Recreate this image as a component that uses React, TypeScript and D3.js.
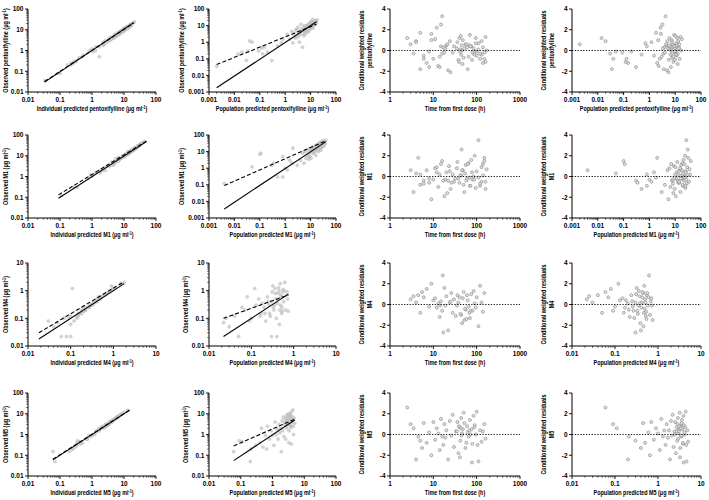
import * as d3 from "d3";

// pentoxifylline
const pxTime = [3, 2.5, 4, 3.5, 5, 6, 8, 150, 160, 120, 140, 100, 8, 130, 110, 15,
  4, 6, 5, 7, 9, 10, 12, 14, 15, 16, 17, 18, 16, 20, 22, 24, 35, 38, 40, 42,
  44, 46, 48, 50, 55, 60, 65, 70, 75, 80, 85, 90, 95, 100, 110, 120, 130, 140, 150, 160,
  170, 11, 13, 19, 21, 25, 30, 36, 39, 41, 43, 45, 47, 52, 58, 62, 68, 72, 78, 88, 9, 14, 28, 96];
const pxObs = [0.035, 0.2, 0.25, 0.08, 0.3, 1.2, 1.0, 0.3, 0.45, 0.2, 0.5, 0.25, 0.08, 0.6, 0.9, 1.5,
  3.0, 1.5, 4.5, 0.9, 3.5, 1.8, 6.0, 2.0, 8.0, 2.5, 4.0, 3.0, 12, 5.0, 0.5, 7.0, 4.5, 3.0, 9.0, 5.5,
  4.0, 6.5, 10, 5.0, 11, 8.0, 6.0, 14, 9.0, 7.0, 12, 10, 15, 9.0, 13, 11, 17, 14, 12, 20,
  16, 22, 2.0, 3.8, 6.0, 2.5, 7.5, 9.5, 4.5, 8.5, 18, 13, 7.0, 15, 19, 1.0, 10, 12, 6.5, 9.0, 5.5, 3.5, 8.0, 24];
const pxIpred = [0.034, 0.17, 0.22, 0.09, 0.28, 1.0, 0.9, 0.32, 0.4, 0.22, 0.5, 0.27, 0.1, 0.55, 0.8, 1.3,
  2.6, 1.7, 4.0, 1.1, 3.9, 2.2, 5.2, 2.4, 7.0, 2.2, 4.6, 3.4, 10, 5.8, 1.7, 6.2, 5.0, 3.6, 8.0, 6.2,
  4.8, 7.5, 9.0, 5.5, 10, 9.0, 6.5, 12, 10, 7.8, 12, 11, 14, 9.5, 12, 12, 15, 15, 13, 18,
  17, 20, 2.3, 3.4, 6.6, 2.9, 7.0, 10, 5.2, 9.2, 16, 14, 8.0, 16, 17, 1.3, 9.2, 13, 7.2, 9.8, 5.0, 4.0, 8.6, 21];
const pxPred = [0.002, 0.014, 0.02, 0.03, 0.035, 0.04, 0.05, 0.09, 0.12, 0.13, 0.15, 0.2, 0.3, 0.5, 0.7, 0.8,
  1.2, 1.5, 1.8, 2.0, 2.2, 2.5, 2.7, 3.0, 3.2, 3.5, 3.8, 4.0, 4.2, 4.5, 4.8, 5.0, 5.3, 5.6, 6.0, 6.3,
  6.6, 7.0, 7.3, 7.6, 8.0, 8.3, 8.6, 9.0, 9.3, 9.6, 10, 10.5, 11, 11.5, 12, 12.5, 13, 14, 15, 16,
  17, 18, 2.3, 3.3, 4.4, 5.5, 6.5, 7.5, 8.5, 9.5, 10.5, 11.5, 12.5, 13.5, 14.5, 3.6, 5.8, 8.8, 9.8, 10.8, 2.8, 6.8, 7.8, 12];
const pxCwres = [0.6, 1.2, 0.9, -0.3, -1.8, -0.8, -0.1, -0.2, -1.1, -0.8, -1.2, -0.1, -1.6, -0.4, 0.7, 0.4,
  0.8, -0.5, 1.7, -1.2, 1.0, -0.8, 2.2, -0.6, 2.5, -0.3, 0.3, -0.2, 3.3, 0.5, -1.9, 0.9, 0.2, -0.9, 1.2, 0.1,
  -0.4, 0.0, 1.0, -0.7, 0.6, 0.3, -0.6, 1.5, 0.4, -0.2, 0.2, -0.1, 0.7, -0.5, 0.1, -0.3, 0.9, 0.3, -0.8, 1.3,
  0.0, 1.1, -1.5, 0.2, 0.6, -2.1, 0.4, 0.8, -1.1, -0.1, 1.4, 0.5, -1.3, 0.2, 0.6, -1.8, 0.5, 0.4, -0.9, -0.4, 1.6, -1.6, -0.2, 1.2];

// M1
const m1Time = [3, 4, 150, 140, 6, 8, 160, 120, 5, 10, 130, 12, 110, 4.5,
  3.5, 5, 7, 9, 11, 13, 15, 17, 19, 21, 23, 25, 28, 32, 36, 40, 44, 48, 52, 56,
  60, 65, 70, 75, 80, 85, 90, 95, 100, 110, 120, 130, 140, 150, 160, 170, 14, 16, 18, 20,
  22, 24, 26, 35, 38, 42, 46, 50, 54, 58, 62, 68, 72, 78, 88, 6, 8, 12, 30, 45];
const m1Obs = [0.12, 1.2, 7.0, 8.0, 1.5, 2.0, 0.3, 0.3, 5.0, 1.0, 0.8, 3.0, 2.0, 16,
  1.5, 3.0, 8.0, 2.0, 10, 4.0, 12, 6.0, 7.0, 3.5, 15, 5.0, 11, 9.0, 20, 8.0, 12, 18, 6.0, 22,
  14, 25, 10, 30, 16, 20, 35, 12, 28, 40, 18, 32, 24, 45, 22, 38, 30, 50, 4.0, 13,
  9.0, 16, 11, 24, 14, 19, 26, 13, 21, 17, 33, 22, 15, 28, 20, 5.5, 8.5, 15, 10, 36];
const m1Ipred = [0.11, 0.9, 5.5, 6.5, 1.3, 1.8, 0.28, 0.35, 4.2, 1.0, 0.75, 2.8, 2.2, 14,
  1.8, 3.5, 7.0, 2.6, 9.0, 4.5, 11, 6.5, 7.5, 4.5, 13, 5.5, 11, 10, 18, 8.5, 13, 17, 7.0, 20,
  15, 23, 11, 27, 17, 21, 32, 13, 27, 36, 19, 30, 25, 40, 23, 35, 30, 45, 5.0, 13,
  10, 16, 12, 22, 15, 19, 25, 14, 21, 18, 30, 22, 16, 27, 21, 6.5, 9.0, 14, 11, 33];
const m1Pred = [0.004, 0.05, 0.1, 0.11, 0.3, 0.35, 0.5, 0.8, 0.8, 1.0, 1.2, 1.5, 1.8, 2.0,
  3, 4, 5, 5.5, 6, 6.5, 7, 7.5, 8, 8.5, 9, 9.5, 10, 11, 12, 13, 14, 15, 16, 17,
  18, 19, 20, 21, 22, 23, 24, 25, 26, 27, 28, 29, 30, 32, 34, 36, 38, 40, 10.5, 11.5,
  12.5, 13.5, 14.5, 15.5, 16.5, 17.5, 18.5, 19.5, 20.5, 21.5, 22.5, 23.5, 24.5, 25.5, 26.5, 8.2, 9.2, 10.2, 14.2, 30.5];
const m1Cwres = [0.6, 0.3, 1.5, 1.2, -0.4, -0.6, -1.2, -0.9, 0.2, -0.3, -0.5, 0.4, -0.1, 1.8,
  -1.5, -0.8, 0.6, -2.2, 0.8, -1.0, 1.2, -0.4, -0.3, -1.6, 1.0, -1.2, 0.2, -0.2, 1.4, -0.6, 0.1, 0.6, -1.5, 1.1,
  -0.2, 1.3, -0.9, 1.6, -0.3, 0.0, 2.0, -1.1, 0.5, 3.5, -0.7, 0.9, 0.1, 1.8, -0.5, 0.7, 0.2, 1.5, -1.9, 0.4,
  -0.4, 0.5, -0.6, 0.8, -0.2, 0.1, 0.6, -0.8, 0.3, -0.4, 1.2, -0.1, -0.9, 0.4, -0.3, -0.7, -0.2, 0.9, -0.5, 2.6];

// M4
const m4Time = [3, 3.5, 4, 4.5, 5, 5.5, 6, 7, 8, 9, 10, 11, 12, 13, 14, 15, 16, 17, 18, 19,
  20, 22, 24, 26, 28, 30, 33, 36, 40, 44, 48, 52, 56, 60, 65, 70, 75, 80, 85, 90,
  95, 100, 110, 120, 130, 140, 150, 14.5, 16.5, 25, 35, 38, 42, 46, 50, 54, 58, 62, 68, 72];
const m4Obs = [0.07, 0.1, 0.05, 0.12, 0.022, 0.25, 0.2, 0.6, 0.1, 1.2, 0.3, 0.5, 0.15, 0.25, 0.08, 0.4, 0.15, 0.022, 1.5, 0.3,
  0.8, 0.022, 0.5, 1.0, 0.2, 0.7, 0.15, 0.9, 1.0, 0.2, 0.9, 0.18, 0.15, 0.6, 0.3, 0.12, 0.9, 0.25, 1.2, 0.5,
  0.35, 0.8, 0.06, 1.8, 0.6, 0.25, 1.1, 0.4, 2.0, 0.7, 0.5, 0.4, 0.2, 0.1, 1.3, 0.3, 0.18, 0.35, 0.12, 0.08];
const m4Ipred = [0.05, 0.07, 0.04, 0.1, 0.08, 0.2, 0.18, 0.45, 0.09, 0.11, 0.28, 0.42, 0.16, 0.23, 0.12, 0.38, 0.18, 0.06, 0.9, 0.3,
  0.7, 0.1, 0.45, 0.85, 0.22, 0.6, 0.17, 0.8, 0.9, 0.22, 0.8, 0.2, 0.15, 0.5, 0.3, 0.15, 0.8, 0.27, 1.0, 0.48,
  0.35, 0.7, 0.1, 1.5, 0.55, 0.27, 1.0, 0.42, 1.8, 0.65, 0.5, 0.38, 0.22, 0.14, 1.1, 0.32, 0.2, 0.33, 0.14, 0.03];
const m4Pred = [0.022, 0.025, 0.03, 0.04, 0.05, 0.06, 0.07, 0.08, 0.1, 0.12, 0.13, 0.15, 0.17, 0.2, 0.22, 0.25, 0.27, 0.3, 0.32, 0.35,
  0.37, 0.4, 0.42, 0.45, 0.47, 0.5, 0.52, 0.55, 0.6, 0.65, 0.7, 0.75, 0.21, 0.24, 0.26, 0.28, 0.31, 0.33, 0.36, 0.38,
  0.41, 0.43, 0.46, 0.48, 0.51, 0.53, 0.56, 0.58, 0.62, 0.68, 0.72, 0.3, 0.34, 0.39, 0.44, 0.49, 0.54, 0.18, 0.16, 0.09];
const m4Cwres = [0.5, 0.8, 0.2, 0.9, -0.8, 1.2, 0.7, 1.5, -0.2, 2.0, 0.4, 0.6, -0.3, 0.1, -1.2, 0.3, -0.6, -2.7, 1.6, -0.1,
  0.8, -2.5, 0.2, 1.1, -0.8, 0.5, -1.1, 0.9, 0.7, -1.0, 0.6, -1.5, -0.5, 0.9, -0.2, -1.3, 1.0, -0.6, 1.3, 0.1,
  -0.3, 0.7, -2.1, 1.8, 0.2, -0.7, 1.1, -0.1, 2.8, 0.3, -0.1, 0.2, -0.9, -1.8, 1.2, -0.4, -1.4, 0.4, -0.8, -0.6];

// M5
const m5Time = [2.5, 3, 3.5, 4, 4.5, 5, 5.5, 6, 7, 8, 9, 10, 11, 12, 13, 14, 15, 16, 17, 18,
  19, 20, 22, 24, 26, 28, 30, 33, 36, 38, 40, 42, 44, 46, 48, 50, 55, 60, 65, 70,
  75, 80, 85, 90, 95, 100, 110, 120, 130, 140, 150, 160, 35, 39, 41, 43, 45, 52, 58, 62, 68, 72, 78, 88, 105];
const m5Obs = [0.15, 0.5, 0.45, 0.05, 0.2, 0.3, 0.4, 2.0, 0.25, 0.9, 0.2, 2.5, 0.6, 1.5, 0.9, 0.3, 4.0, 1.0, 0.6, 3.0,
  1.2, 2.0, 0.15, 4.5, 1.5, 7.0, 0.8, 3.0, 6.0, 0.6, 5.0, 2.0, 8.0, 3.5, 4.5, 10, 1.5, 6.5, 3.0, 9.0,
  5.5, 2.5, 12, 7.0, 4.0, 15, 1.0, 6.0, 3.5, 4.0, 8.5, 2.8, 5.0, 7.5, 0.4, 6.0, 3.2, 9.5, 2.2, 5.5, 1.8, 3.8, 0.35, 7.0, 2.5];
const m5Ipred = [0.06, 0.35, 0.4, 0.07, 0.25, 0.3, 0.35, 1.8, 0.3, 0.8, 0.25, 2.1, 0.7, 1.3, 1.0, 0.35, 3.5, 1.1, 0.7, 2.6,
  1.3, 1.8, 0.2, 4.0, 1.6, 6.0, 0.9, 2.8, 5.5, 0.7, 4.6, 2.2, 7.0, 3.3, 4.2, 8.5, 1.7, 6.0, 3.2, 8.0,
  5.0, 2.7, 10, 6.5, 4.1, 13, 1.2, 5.6, 3.6, 4.2, 7.5, 3.0, 4.8, 6.8, 0.5, 5.5, 3.4, 8.5, 2.4, 5.2, 1.6, 3.5, 0.45, 6.5, 2.7];
const m5Pred = [0.06, 0.09, 0.11, 0.2, 0.21, 0.3, 0.4, 0.45, 0.5, 0.6, 0.65, 0.7, 0.8, 0.9, 1.0, 1.1, 1.2, 1.3, 1.5, 1.6,
  1.7, 1.8, 1.9, 2.0, 2.1, 2.2, 2.3, 2.4, 2.5, 2.6, 2.7, 2.8, 2.9, 3.0, 3.1, 3.2, 3.3, 3.4, 3.5, 3.6,
  3.7, 3.8, 3.9, 4.0, 4.2, 4.4, 4.6, 4.8, 5.0, 2.75, 2.85, 2.95, 3.05, 3.15, 3.25, 3.35, 3.45, 3.55, 3.8, 4.1, 1.4, 2.45, 3.9, 4.3, 4.5];
const m5Cwres = [2.6, 1.0, 0.6, -2.4, -0.2, -0.6, -1.3, 1.1, -0.8, 0.2, -2.0, 1.2, -0.5, 0.6, 0.1, -1.5, 1.5, -0.2, -1.0, 1.0,
  -0.3, 0.4, -2.4, 1.3, -0.1, 1.9, -1.2, 0.3, 1.2, -1.8, 0.7, -0.6, 1.6, 0.1, 0.5, 2.1, -1.3, 0.8, -0.2, 1.4,
  0.5, -0.9, 1.8, 0.9, 0.0, 2.2, -2.6, 0.4, -0.7, 0.3, 1.0, -0.4, 0.3, 0.8, -2.2, 0.6, -0.1, 1.1, -0.8, 0.2, 0.4, 0.0, -2.7, 0.7, -1.0];

// regression lines [solid, dashed], each [[x0,y0],[x1,y1]]
const pxIpredFit = [[[0.033, 0.03], [20, 22]], [[0.033, 0.032], [20, 21]]];
const pxPredFit = [[[0.002, 0.0018], [17, 17]], [[0.002, 0.045], [17, 12]]];
const m1IpredFit = [[[0.09, 0.09], [50, 48]], [[0.09, 0.13], [50, 50]]];
const m1PredFit = [[[0.004, 0.0035], [40, 40]], [[0.004, 0.09], [40, 45]]];
const m4IpredFit = [[[0.018, 0.018], [1.8, 1.8]], [[0.018, 0.03], [1.6, 1.9]]];
const m4PredFit = [[[0.022, 0.022], [0.75, 0.75]], [[0.022, 0.1], [0.75, 0.7]]];
const m5IpredFit = [[[0.06, 0.06], [15, 15]], [[0.06, 0.064], [15, 15]]];
const m5PredFit = [[[0.06, 0.055], [5, 5]], [[0.06, 0.28], [5, 5.5]]];

const analytes = [
  { name: "pentoxifylline", time: pxTime, obs: pxObs, ipred: pxIpred, pred: pxPred, cwres: pxCwres,
    ipredFit: pxIpredFit, predFit: pxPredFit, dom1: [0.01, 100], dom2: [0.001, 100], dom4: [0.001, 100] },
  { name: "M1", time: m1Time, obs: m1Obs, ipred: m1Ipred, pred: m1Pred, cwres: m1Cwres,
    ipredFit: m1IpredFit, predFit: m1PredFit, dom1: [0.01, 100], dom2: [0.001, 100], dom4: [0.001, 100] },
  { name: "M4", time: m4Time, obs: m4Obs, ipred: m4Ipred, pred: m4Pred, cwres: m4Cwres,
    ipredFit: m4IpredFit, predFit: m4PredFit, dom1: [0.01, 10], dom2: [0.01, 10], dom4: [0.01, 10] },
  { name: "M5", time: m5Time, obs: m5Obs, ipred: m5Ipred, pred: m5Pred, cwres: m5Cwres,
    ipredFit: m5IpredFit, predFit: m5PredFit, dom1: [0.01, 100], dom2: [0.01, 100], dom4: [0.01, 10] },
];

const ROW_TOP = [9, 135, 263, 393];
const PLOT_H = 83;
const COLS = [[28, 156], [209, 336], [390, 520], [572, 701]];
const FONT = "'Liberation Sans', Arial, sans-serif";
const SQUEEZE = 0.8;

const logTicks = (dom) => {
  const lo = Math.round(Math.log10(dom[0]));
  const hi = Math.round(Math.log10(dom[1]));
  const major = d3.range(lo, hi + 1).map((e) => Math.pow(10, e));
  const minor = [];
  d3.range(lo, hi).forEach((e) => {
    for (let k = 2; k < 10; k++) minor.push(k * Math.pow(10, e));
  });
  return { major, minor };
};

const fmt = (v) => (v >= 1 ? String(Math.round(v)) : String(+v.toPrecision(1)));

const Unit = () => (
  <>
    {" (μg ml"}
    <tspan dy={-2.5} fontSize={4.6}>-1</tspan>
    <tspan dy={2.5}>)</tspan>
  </>
);

function Panel({ left, right, top, xDom, yDom, yLog, xs, ys, fits, xTitle, yTitle, resid }) {
  const w = right - left;
  const h = PLOT_H;
  const x = d3.scaleLog().domain(xDom).range([0, w]);
  const y = yLog ? d3.scaleLog().domain(yDom).range([h, 0]) : d3.scaleLinear().domain(yDom).range([h, 0]);
  const xt = logTicks(xDom);
  const yt = yLog ? logTicks(yDom) : { major: [-4, -2, 0, 2, 4], minor: [] };
  const n = Math.min(xs.length, ys.length);
  const pts = d3.range(n).map((i) => [xs[i], ys[i]]);
  const line = d3.line().x((d) => x(d[0])).y((d) => y(d[1]));
  return (
    <g transform={`translate(${left},${top})`} fontFamily={FONT} fontWeight="bold">
      {pts.map((d, i) => (
        <circle key={i} cx={x(d[0])} cy={y(d[1])} r={resid ? 1.5 : 1.6}
          fill={resid ? "#e2e2e2" : "#cacaca"} stroke={resid ? "#7c7c7c" : "#b4b4b4"}
          strokeWidth={resid ? 0.6 : 0.4} opacity={resid ? 0.95 : 0.8} />
      ))}
      {resid && (
        <line x1={0} x2={w} y1={y(0)} y2={y(0)} stroke="#000" strokeWidth={0.9} strokeDasharray="1.3,1.5" />
      )}
      {fits && (
        <>
          <path d={line(fits[0])} stroke="#000" strokeWidth={1.1} fill="none" />
          <path d={line(fits[1])} stroke="#000" strokeWidth={1.1} fill="none" strokeDasharray="4,2.2" />
        </>
      )}
      <line x1={0} x2={w} y1={h} y2={h} stroke="#000" strokeWidth={1} />
      <line x1={0} x2={0} y1={0} y2={h} stroke="#000" strokeWidth={1} />
      {xt.major.map((v) => (
        <g key={"xm" + v}>
          <line x1={x(v)} x2={x(v)} y1={h} y2={h + 3} stroke="#000" strokeWidth={0.9} />
          <text x={x(v)} y={h + 9.5} fontSize={6.5} textAnchor="middle">{fmt(v)}</text>
        </g>
      ))}
      {xt.minor.map((v) => (
        <line key={"xn" + v} x1={x(v)} x2={x(v)} y1={h} y2={h + 1.8} stroke="#000" strokeWidth={0.6} />
      ))}
      {yt.major.map((v) => (
        <g key={"ym" + v}>
          <line x1={-3} x2={0} y1={y(v)} y2={y(v)} stroke="#000" strokeWidth={0.9} />
          <text x={-4.5} y={y(v)} dy="0.35em" fontSize={6.5} textAnchor="end">{yLog ? fmt(v) : String(v)}</text>
        </g>
      ))}
      {yt.minor.map((v) => (
        <line key={"yn" + v} x1={-1.8} x2={0} y1={y(v)} y2={y(v)} stroke="#000" strokeWidth={0.6} />
      ))}
      <text transform={`translate(${w / 2},${h + 19}) scale(${SQUEEZE},1)`} fontSize={6.8} textAnchor="middle">
        {xTitle}
      </text>
      {yTitle.map((t, i) => (
        <text key={i} transform={`translate(${t.dx},${h / 2}) rotate(-90) scale(${SQUEEZE},1)`}
          fontSize={6.8} textAnchor="middle">
          {t.text}
        </text>
      ))}
    </g>
  );
}

export default function App() {
  return (
    <svg width={709} height={500} style={{ position: "absolute", left: 0, top: 0, background: "#fff" }}>
      {analytes.map((a, r) => {
        const top = ROW_TOP[r];
        const residTitle = [
          { dx: -26, text: "Conditional weighted residuals" },
          { dx: -18, text: a.name },
        ];
        return (
          <g key={a.name}>
            <Panel left={COLS[0][0]} right={COLS[0][1]} top={top} xDom={a.dom1} yDom={a.dom1} yLog
              xs={a.ipred} ys={a.obs} fits={a.ipredFit}
              xTitle={<>{`Individual predicted ${a.name}`}<Unit /></>}
              yTitle={[{ dx: -20, text: <>{`Observed ${a.name}`}<Unit /></> }]} />
            <Panel left={COLS[1][0]} right={COLS[1][1]} top={top} xDom={a.dom2} yDom={a.dom2} yLog
              xs={a.pred} ys={a.obs} fits={a.predFit}
              xTitle={<>{`Population predicted ${a.name}`}<Unit /></>}
              yTitle={[{ dx: a.dom2[0] < 0.01 ? -25 : -21, text: <>{`Observed ${a.name}`}<Unit /></> }]} />
            <Panel left={COLS[2][0]} right={COLS[2][1]} top={top} xDom={[1, 1000]} yDom={[-4, 4]}
              xs={a.time} ys={a.cwres} resid
              xTitle="Time from first dose (h)" yTitle={residTitle} />
            <Panel left={COLS[3][0]} right={COLS[3][1]} top={top} xDom={a.dom4} yDom={[-4, 4]}
              xs={a.pred} ys={a.cwres} resid
              xTitle={<>{`Population predicted ${a.name}`}<Unit /></>} yTitle={residTitle} />
          </g>
        );
      })}
    </svg>
  );
}
